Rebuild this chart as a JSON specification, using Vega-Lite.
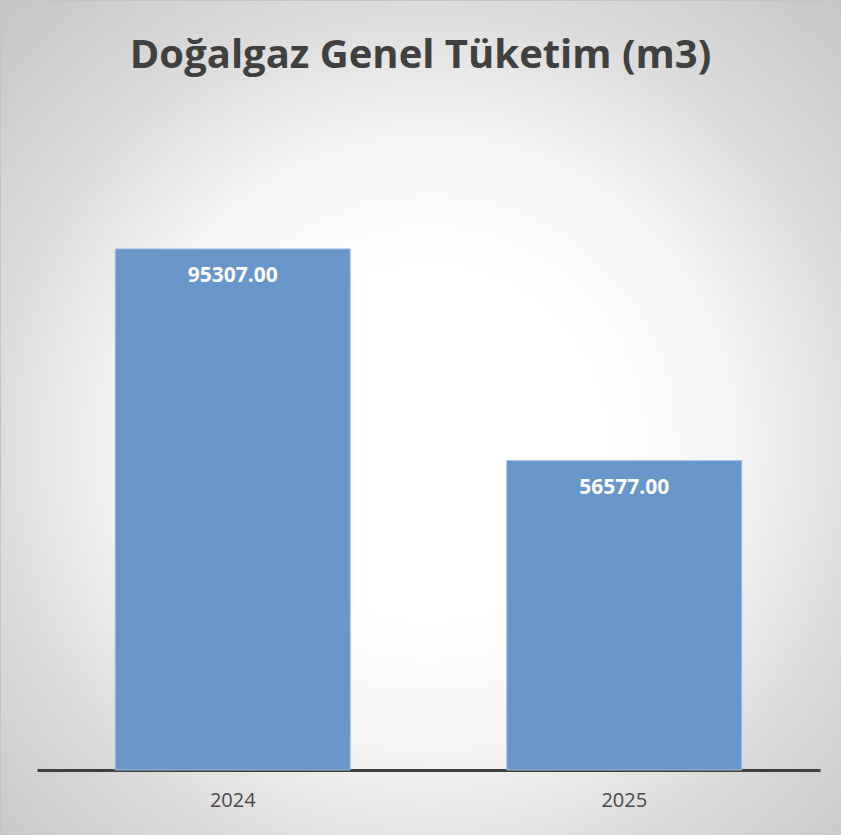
{
  "$schema": "https://vega.github.io/schema/vega-lite/v6.json",
  "width": 841,
  "height": 835,
  "autosize": {"type": "none"},
  "padding": 0,
  "background": "#ffffff",
  "view": {
    "fill": {
      "gradient": "radial",
      "x1": 0.51, "y1": 0.53, "r1": 0,
      "x2": 0.51, "y2": 0.53, "r2": 0.72,
      "stops": [
        {"offset": 0, "color": "#ffffff"},
        {"offset": 0.28, "color": "#ffffff"},
        {"offset": 0.5, "color": "#f5f5f5"},
        {"offset": 0.72, "color": "#dcdcdc"},
        {"offset": 1, "color": "#c6c6c6"}
      ]
    },
    "stroke": "#c4c4c4",
    "strokeWidth": 1
  },
  "title": {
    "text": "Doğalgaz Genel Tüketim (m3)",
    "font": "Open Sans",
    "fontSize": 40,
    "fontWeight": "bold",
    "color": "#404040",
    "anchor": "middle",
    "frame": "group",
    "baseline": "alphabetic",
    "offset": -108
  },
  "data": {
    "values": [
      {"year": "2024", "value": 95307},
      {"year": "2025", "value": 56577}
    ]
  },
  "encoding": {
    "x": {
      "field": "year",
      "type": "nominal",
      "scale": {"range": [37, 820], "paddingInner": 0.4, "paddingOuter": 0.2},
      "axis": {
        "title": null,
        "labelAngle": 0,
        "offset": -65,
        "domainColor": "#404040",
        "domainWidth": 3,
        "ticks": false,
        "labelFont": "Open Sans",
        "labelFontSize": 20,
        "labelColor": "#4a4a4a",
        "labelPadding": 20
      }
    },
    "y": {
      "field": "value",
      "type": "quantitative",
      "scale": {"domain": [-11890, 140845], "nice": false, "zero": false},
      "axis": null
    }
  },
  "layer": [
    {"mark": {"type": "bar", "color": "#6896c8", "stroke": "#9dbbe0", "strokeWidth": 1}},
    {
      "mark": {"type": "text", "color": "#ffffff", "font": "Open Sans", "fontWeight": "bold", "fontSize": 21, "baseline": "middle", "dy": 27},
      "encoding": {"text": {"field": "value", "type": "quantitative", "format": ".2f"}}
    }
  ]
}
